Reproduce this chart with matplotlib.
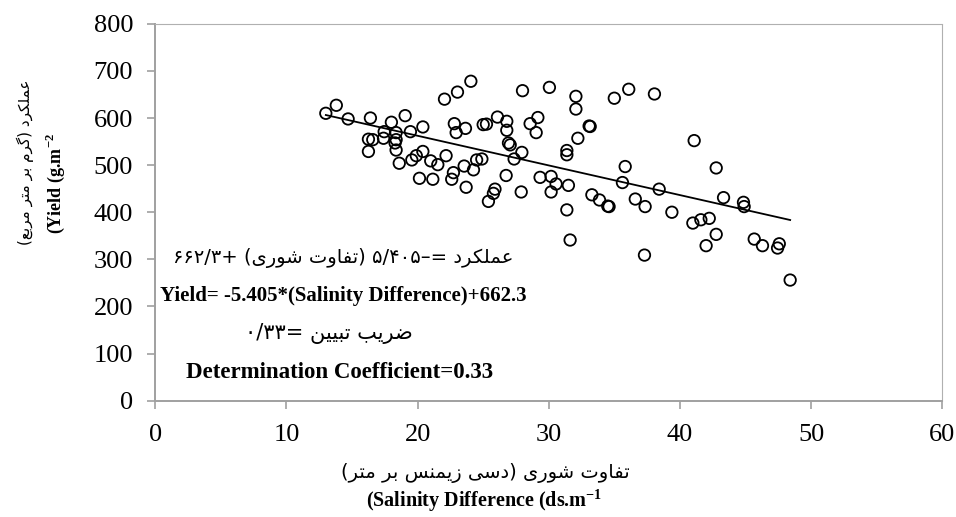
import numpy as np
import matplotlib
matplotlib.use("Agg")
import matplotlib.pyplot as plt

# ---------------- data ----------------
salinity = [13.0, 13.8, 14.7, 16.4, 18.0, 19.05, 20.4, 19.45, 17.45, 18.36,
            17.4, 16.25, 16.58, 18.36, 18.28, 16.25, 18.36, 18.6, 20.4, 19.9,
            19.56, 21.0, 21.54, 22.17, 20.14, 21.16, 22.6, 22.73, 23.55, 24.26,
            24.5, 24.9, 23.7, 25.4, 22.05, 23.04, 22.8, 22.94, 23.65, 25.0,
            25.25,
            24.06, 26.09, 26.8, 26.8, 26.93, 27.06, 28.0, 30.05, 28.58, 29.17,
            29.04, 27.95, 27.36, 26.75, 25.9, 25.78, 27.9, 29.34, 30.18, 30.56,
            30.18, 31.5, 31.38, 31.63, 31.38, 31.38, 32.22, 32.07, 32.07, 33.08,
            33.16, 35.0, 36.1, 35.83, 35.62, 36.6, 33.29, 33.87, 34.5, 34.6,
            37.3,
            38.06, 41.09, 42.77, 38.42, 37.35, 39.39, 40.99, 41.6, 42.24, 43.33,
            44.85, 44.9, 42.77, 42.0, 45.67, 46.3, 47.58, 47.45, 48.41]
yield_vals = [610, 627, 598, 600, 591, 605, 581, 571, 571, 569,
              557, 555, 554, 554, 547, 529, 532, 504, 529, 520,
              511, 509, 501, 520, 472, 470, 470, 484, 498, 490,
              511, 513, 453, 423, 640, 655, 588, 569, 578, 586,
              587,
              678, 602, 593, 574, 547, 543, 658, 665, 588, 601,
              569, 527, 513, 478, 449, 440, 443, 474, 476, 460,
              443, 457, 405, 341, 531, 522, 557, 646, 619, 583,
              582, 642, 661, 497, 463, 428, 437, 426, 413, 412,
              309,
              651, 552, 494, 449, 412, 400, 377, 384, 387, 431,
              421, 412, 353, 329, 343, 329, 333, 324, 256]

x_ticks = [0, 10, 20, 30, 40, 50, 60]
y_ticks = [0, 100, 200, 300, 400, 500, 600, 700, 800]

fa_xlabel = "تفاوت شوری (دسی زیمنس بر متر)"
en_xlabel = r"(Salinity Difference (ds.m$^{\mathbf{-1}}$"
fa_ylabel = "عملکرد (گرم بر متر مربع)"
en_ylabel = r"(Yield (g.m$^{\mathbf{-2}}$"
fa_equation = "عملکرد =–۵/۴۰۵ (تفاوت شوری) +۶۶۲/۳"
en_equation = "Yield= -5.405*(Salinity Difference)+662.3"
fa_r2 = "ضریب تبیین =۰/۳۳"
en_r2 = "Determination Coefficient=0.33"

# ---------------- minimal Persian shaping + visual (RTL) ordering ----------------
FORMS = {
    '\u0627': ('\uFE8D', '\uFE8E'),
    '\u062F': ('\uFEA9', '\uFEAA'),
    '\u0631': ('\uFEAD', '\uFEAE'),
    '\u0632': ('\uFEAF', '\uFEB0'),
    '\u0648': ('\uFEED', '\uFEEE'),
    '\u0628': ('\uFE8F', '\uFE90', '\uFE91', '\uFE92'),
    '\u062A': ('\uFE95', '\uFE96', '\uFE97', '\uFE98'),
    '\u0633': ('\uFEB1', '\uFEB2', '\uFEB3', '\uFEB4'),
    '\u0634': ('\uFEB5', '\uFEB6', '\uFEB7', '\uFEB8'),
    '\u0636': ('\uFEBD', '\uFEBE', '\uFEBF', '\uFEC0'),
    '\u0639': ('\uFEC9', '\uFECA', '\uFECB', '\uFECC'),
    '\u0641': ('\uFED1', '\uFED2', '\uFED3', '\uFED4'),
    '\u0644': ('\uFEDD', '\uFEDE', '\uFEDF', '\uFEE0'),
    '\u0645': ('\uFEE1', '\uFEE2', '\uFEE3', '\uFEE4'),
    '\u0646': ('\uFEE5', '\uFEE6', '\uFEE7', '\uFEE8'),
    '\u06CC': ('\uFBFC', '\uFBFD', '\uFBFE', '\uFBFF'),
    '\u06A9': ('\uFB8E', '\uFB8F', '\uFB90', '\uFB91'),
    '\u06AF': ('\uFB92', '\uFB93', '\uFB94', '\uFB95'),
}
MIRROR = {'(': ')', ')': '('}


def shape(s):
    out = []
    for i, c in enumerate(s):
        if c not in FORMS:
            out.append(c)
            continue
        f = FORMS[c]
        prev = s[i - 1] if i > 0 else ''
        nxt = s[i + 1] if i + 1 < len(s) else ''
        jp = prev in FORMS and len(FORMS[prev]) == 4
        jn = len(f) == 4 and nxt in FORMS
        if jp and jn:
            out.append(f[3])
        elif jp:
            out.append(f[1])
        elif jn:
            out.append(f[2])
        else:
            out.append(f[0])
    return ''.join(out)


def visual(s):
    t = shape(s)
    runs, i = [], 0
    while i < len(t):
        if t[i].isdigit():
            j = i
            while j < len(t) and (t[j].isdigit() or (t[j] in '/.' and j + 1 < len(t) and t[j + 1].isdigit())):
                j += 1
            runs.append(t[i:j])
            i = j
        else:
            runs.append(MIRROR.get(t[i], t[i]))
            i += 1
    return ''.join(reversed(runs))


# ---------------- figure ----------------
plt.rcParams['font.family'] = ['Liberation Serif', 'DejaVu Sans']
plt.rcParams['mathtext.fontset'] = 'custom'
plt.rcParams['mathtext.rm'] = 'Liberation Serif'
plt.rcParams['mathtext.bf'] = 'Liberation Serif:bold'

fig = plt.figure(figsize=(9.56, 5.17), dpi=100)
ax = fig.add_axes([0.1625, 0.225, 0.823, 0.729])

ax.scatter(salinity, yield_vals, s=68, facecolors='none', edgecolors='black',
           linewidths=1.3, zorder=3)

coef = np.polyfit(salinity, yield_vals, 1)
xs = np.array([min(salinity), max(salinity)])
ax.plot(xs, np.polyval(coef, xs), color='black', lw=1.3, zorder=4)

ax.set_xlim(0, 60)
ax.set_ylim(0, 800)
ax.set_xticks(x_ticks)
ax.set_yticks(y_ticks)
ax.tick_params(axis='both', labelsize=19, colors='#a0a0a0', labelcolor='black',
               length=6, width=1.2, direction='out')
ax.tick_params(axis='x', pad=11)
ax.tick_params(axis='y', pad=10)

for side in ('left', 'bottom'):
    ax.spines[side].set_color('#a0a0a0')
    ax.spines[side].set_linewidth(1.4)
for side in ('top', 'right'):
    ax.spines[side].set_color('#b0b0b0')
    ax.spines[side].set_linewidth(0.8)
    ax.spines[side].set_linestyle((0, (1, 1)))

fa_fam = ['DejaVu Sans', 'Liberation Serif']
fig.text(343 / 956, 1 - 258 / 517, visual(fa_equation), ha='center', va='center',
         fontsize=14, family=fa_fam)
fig.text(343 / 956, 1 - 296 / 517, en_equation, ha='center', va='center',
         fontsize=15, fontweight='bold')
fig.text(329 / 956, 1 - 333 / 517, visual(fa_r2), ha='center', va='center',
         fontsize=15, family=fa_fam)
fig.text(340 / 956, 1 - 372 / 517, en_r2, ha='center', va='center',
         fontsize=16.5, fontweight='bold')

fig.text(485 / 956, 1 - 473 / 517, visual(fa_xlabel), ha='center', va='center',
         fontsize=14, family=fa_fam)
fig.text(484 / 956, 1 - 507 / 517, en_xlabel, ha='center', va='baseline',
         fontsize=14.5, fontweight='bold')
fig.text(25 / 956, 1 - 162 / 517, visual(fa_ylabel), ha='center', va='center',
         rotation=90, fontsize=11, family=fa_fam)
fig.text(55 / 956, 1 - 183 / 517, en_ylabel, ha='center', va='center',
         rotation=90, fontsize=13, fontweight='bold')

fig.savefig('out.png', dpi=100, facecolor='white')
